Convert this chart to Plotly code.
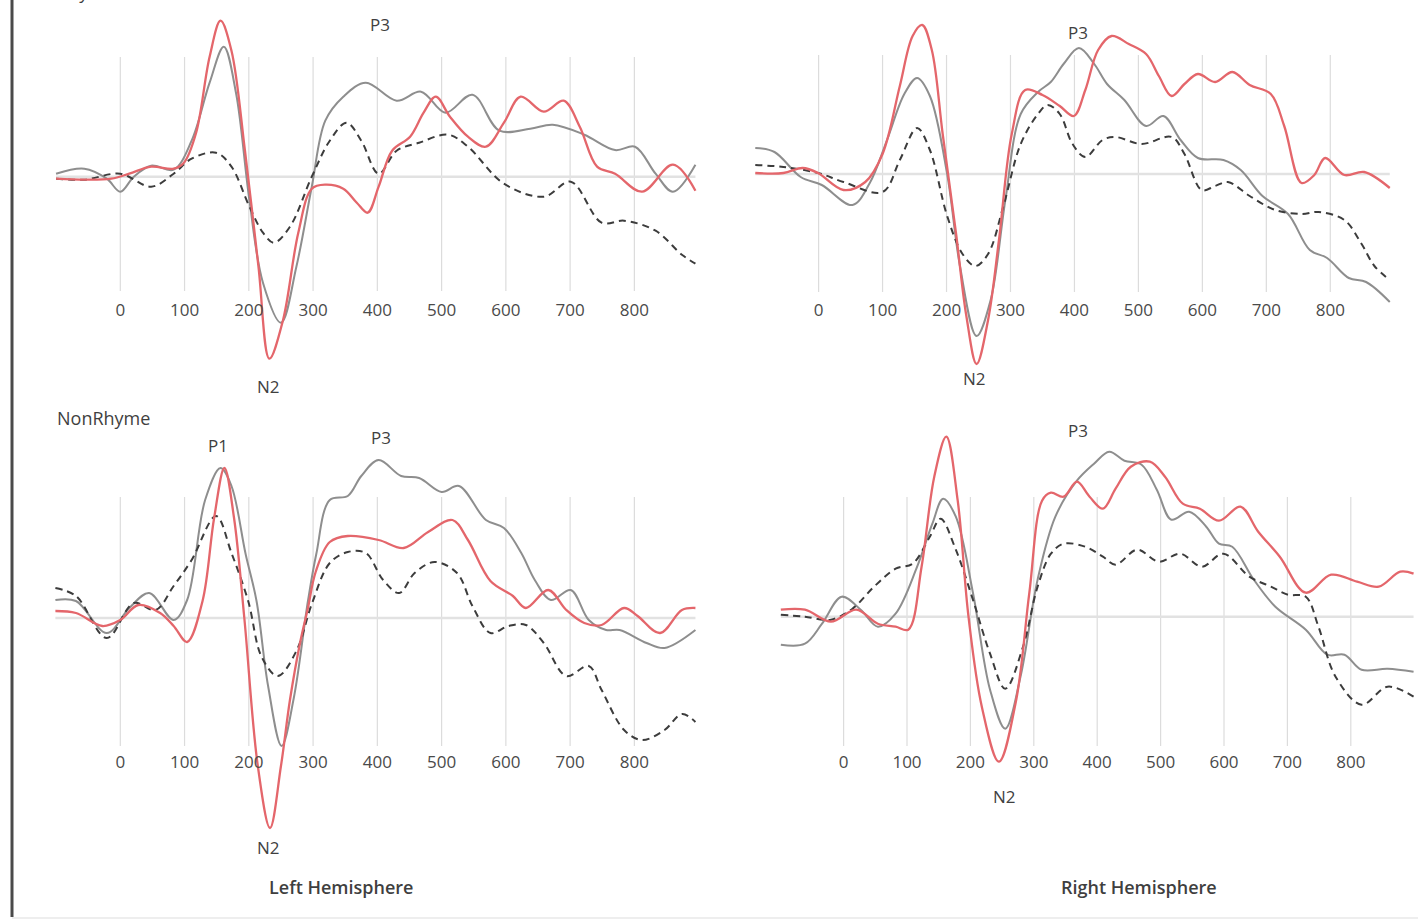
import plotly.graph_objects as go

W, H = 1418, 920
PX_PER_UV = 20.0

# ---- tick labels (ms) ----
tick_ms = [0, 100, 200, 300, 400, 500, 600, 700, 800]
tick_text = ["0", "100", "200", "300", "400", "500", "600", "700", "800"]

# ---- Rhyme, left hemisphere ----
rl_red_ms = [-100, -55, -14, 14, 48, 83, 99, 118, 139, 156, 173, 194, 215, 232, 253, 277, 298, 319,
             347, 368, 385, 402, 423, 451, 472, 491, 513, 541, 569, 597, 623, 659, 690, 715, 742,
             770, 812, 860, 895]
rl_red_uv = [-0.1, -0.15, -0.1, 0.15, 0.5, 0.4, 0.7, 2.2, 6.0, 7.8, 6.3, 1.3, -4.5, -9.1, -7.2, -2.8,
             -0.6, -0.4, -0.6, -1.3, -1.8, -0.5, 1.3, 2.0, 3.2, 4.0, 3.0, 2.0, 1.5, 2.7, 4.0, 3.25,
             3.8, 2.5, 0.5, 0.15, -0.75, 0.6, -0.7]
rl_grey_ms = [-100, -56, -21, 0, 21, 48, 83, 111, 139, 161, 180, 201, 222, 250, 274, 298, 319, 347,
              382, 430, 468, 506, 548, 590, 638, 673, 722, 770, 801, 833, 860, 895]
rl_grey_uv = [0.15, 0.4, -0.1, -0.75, 0.0, 0.55, 0.35, 1.8, 4.7, 6.5, 4.2, -1.2, -5.3, -7.3, -4.5,
              -0.5, 2.8, 4.0, 4.7, 3.8, 4.25, 3.2, 4.1, 2.3, 2.4, 2.6, 2.1, 1.33, 1.5, 0.15, -0.75, 0.6]
rl_dash_ms = [-100, -56, 0, 48, 83, 111, 149, 173, 201, 222, 239, 264, 298, 326, 352, 375, 402, 430,
              465, 510, 541, 597, 659, 701, 749, 784, 833, 874, 895]
rl_dash_uv = [-0.1, -0.15, 0.15, -0.5, 0.15, 0.9, 1.2, 0.5, -1.5, -2.8, -3.3, -2.5, 0.0, 1.8, 2.7, 1.8,
              0.15, 1.3, 1.7, 2.1, 1.5, -0.35, -1.0, -0.25, -2.3, -2.2, -2.7, -3.9, -4.35]

# ---- Rhyme, right hemisphere ----
rr_red_ms = [-99, -55, -25, -1, 39, 73, 100, 127, 147, 162, 177, 194, 215, 231, 247, 265, 282, 302,
             323, 350, 377, 399, 417, 437, 458, 485, 512, 532, 552, 572, 593, 620, 647, 674, 707, 728,
             755, 775, 792, 822, 853, 893]
rr_red_uv = [0.05, 0.05, 0.3, 0.05, -0.8, -0.4, 1.0, 4.4, 6.9, 7.45, 6.2, 2.0, -3.0, -7.1, -9.5, -7.3,
             -3.3, 2.0, 4.2, 3.95, 3.4, 2.9, 4.2, 6.2, 6.9, 6.5, 6.0, 4.9, 3.9, 4.5, 5.0, 4.6, 5.1,
             4.45, 4.0, 2.4, -0.45, -0.05, 0.8, -0.05, 0.1, -0.7]
rr_grey_ms = [-99, -69, -28, 5, 53, 80, 107, 134, 154, 174, 201, 221, 247, 269, 292, 316, 343, 363,
              383, 407, 431, 451, 478, 512, 539, 566, 593, 633, 660, 694, 734, 768, 795, 829, 856, 893]
rr_grey_uv = [1.3, 1.1, -0.15, -0.55, -1.55, -0.45, 1.7, 4.0, 4.8, 3.9, 0.0, -4.6, -8.1, -6.3, -1.3,
              3.0, 4.1, 4.6, 5.5, 6.3, 5.5, 4.5, 3.7, 2.4, 2.9, 1.7, 0.8, 0.7, 0.2, -1.1, -2.0, -3.8,
              -4.2, -5.2, -5.4, -6.4]
rr_dash_ms = [-99, -55, -1, 39, 100, 127, 154, 174, 201, 225, 245, 265, 289, 316, 343, 358, 377, 397,
              417, 444, 464, 505, 552, 572, 599, 620, 640, 674, 714, 755, 782, 822, 849, 869, 893]
rr_dash_uv = [0.45, 0.35, 0.05, -0.4, -0.9, 0.7, 2.3, 1.2, -2.1, -4.0, -4.6, -4.0, -1.6, 1.5, 3.0,
              3.45, 3.0, 1.5, 0.85, 1.7, 1.85, 1.5, 1.85, 1.0, -0.8, -0.6, -0.4, -1.1, -1.8, -2.0,
              -1.9, -2.3, -3.5, -4.6, -5.3]

# ---- NonRhyme, left hemisphere ----
nl_red_ms = [-101, -69, -28, 0, 28, 62, 83, 104, 128, 146, 162, 177, 193, 214, 233, 250, 264, 280,
             292, 304, 326, 354, 402, 441, 479, 517, 541, 576, 611, 631, 666, 694, 722, 749, 784,
             805, 840, 874, 895]
nl_red_uv = [0.35, 0.25, -0.4, -0.1, 0.65, 0.25, -0.4, -1.2, 0.85, 5.0, 7.5, 5.0, 0.0, -7.4, -10.5,
             -7.4, -4.1, -1.2, 0.5, 2.3, 3.8, 4.1, 3.9, 3.5, 4.3, 4.9, 3.9, 1.85, 1.1, 0.5, 1.4, 0.4,
             -0.25, -0.35, 0.5, 0.1, -0.75, 0.4, 0.5]
nl_grey_ms = [-101, -69, -21, 14, 45, 83, 104, 132, 156, 173, 195, 212, 230, 251, 270, 292, 305, 326,
              354, 375, 402, 437, 465, 500, 527, 569, 597, 624, 645, 670, 701, 729, 756, 777, 819,
              847, 895]
nl_grey_uv = [0.9, 0.85, -0.75, 0.5, 1.25, -0.1, 0.9, 5.9, 7.5, 6.6, 3.2, 0.85, -3.4, -6.4, -4.0,
              0.85, 3.2, 5.9, 6.1, 7.1, 7.9, 7.1, 7.0, 6.3, 6.6, 4.9, 4.5, 3.25, 1.9, 0.9, 1.4, -0.1,
              -0.6, -0.6, -1.25, -1.5, -0.6]
nl_dash_ms = [-101, -69, -21, 21, 55, 83, 111, 149, 173, 199, 220, 245, 274, 298, 326, 354, 382, 409,
              434, 458, 489, 524, 548, 576, 604, 631, 659, 694, 729, 749, 784, 812, 847, 874, 895]
nl_dash_uv = [1.5, 1.1, -1.0, 0.75, 0.4, 1.6, 2.9, 5.1, 3.25, 0.85, -1.95, -2.9, -1.65, 0.7, 2.75,
              3.3, 3.25, 1.9, 1.25, 2.25, 2.8, 2.25, 0.6, -0.75, -0.4, -0.35, -1.25, -2.9, -2.4,
              -3.6, -5.6, -6.1, -5.6, -4.8, -5.2]

# ---- NonRhyme, right hemisphere ----
nr_red_ms = [-99, -61, -20, 20, 54, 82, 102, 123, 143, 162, 180, 197, 218, 245, 272, 293, 313, 327,
             347, 368, 388, 409, 429, 453, 483, 507, 535, 562, 592, 626, 654, 688, 729, 769, 810,
             844, 878, 899]
nr_red_uv = [0.35, 0.35, -0.25, 0.35, -0.35, -0.5, -0.65, 2.5, 7.0, 9.0, 5.8, 0.0, -4.5, -7.25, -4.2,
             1.2, 5.8, 6.2, 6.0, 6.75, 6.0, 5.4, 6.4, 7.5, 7.75, 7.0, 5.65, 5.4, 4.8, 5.5, 4.25,
             3.0, 1.2, 2.1, 1.75, 1.5, 2.25, 2.15]
nr_grey_ms = [-99, -61, -34, -3, 27, 54, 82, 116, 140, 157, 177, 204, 231, 255, 279, 306, 334, 368,
              395, 419, 443, 470, 494, 517, 545, 572, 592, 613, 647, 681, 729, 763, 790, 817, 858, 899]
nr_grey_uv = [-1.4, -1.35, -0.35, 1.0, 0.35, -0.5, 0.15, 2.5, 4.65, 5.9, 5.0, 1.2, -3.65, -5.6,
              -3.0, 1.85, 5.0, 6.8, 7.65, 8.25, 7.8, 7.6, 6.35, 4.85, 5.25, 4.5, 3.65, 3.5, 1.85,
              0.5, -0.65, -1.9, -1.9, -2.65, -2.6, -2.75]
nr_dash_ms = [-99, -61, -20, 14, 48, 82, 109, 136, 153, 177, 204, 231, 255, 283, 306, 327, 347, 381,
              409, 429, 463, 497, 531, 565, 599, 640, 674, 701, 729, 749, 776, 817, 858, 899]
nr_dash_uv = [0.1, 0.0, -0.15, 0.4, 1.5, 2.4, 2.65, 4.0, 4.9, 3.35, 0.85, -1.85, -3.6, -1.5, 1.5,
              3.15, 3.65, 3.5, 3.0, 2.6, 3.35, 2.75, 3.15, 2.5, 3.15, 2.0, 1.5, 1.1, 1.0, -0.5,
              -3.0, -4.4, -3.5, -4.0]

# ---- peak labels: (text, ms, uV) ----
rl_peaks = [("P3", 404, 7.6), ("N2", 230, -10.5)]
rr_peaks = [("P3", 406, 7.1), ("N2", 244, -10.2)]
nl_peaks = [("P1", 152, 8.6), ("P3", 405, 9.0), ("N2", 230, -11.45)]
nr_peaks = [("P3", 370, 9.3), ("N2", 254, -9.0)]

RED = "#e4666b"
GREY = "#8e8e8e"
DARK = "#3c3c3c"
GRID = "#dcdcdc"
BASE = "#e2e2e2"
TEXT = "#3f3f3f"
FONT = "'Open Sans', Lato, sans-serif"

# panel geometry in page pixels: zero-ms x, px per ms, baseline y,
# column span, row span, grid span, tick-label row
panels = [
    dict(name="1", x0=120.3, k=0.6426, base=176.7, cols=(40, 712), rows=(0, 400), grid=(57, 291), lab=310,
         curves=[(rl_grey_ms, rl_grey_uv, "grey"), (rl_dash_ms, rl_dash_uv, "dash"), (rl_red_ms, rl_red_uv, "red")],
         peaks=rl_peaks),
    dict(name="2", x0=818.6, k=0.6396, base=174.0, cols=(740, 1418), rows=(0, 400), grid=(55, 292), lab=310,
         curves=[(rr_grey_ms, rr_grey_uv, "grey"), (rr_dash_ms, rr_dash_uv, "dash"), (rr_red_ms, rr_red_uv, "red")],
         peaks=rr_peaks),
    dict(name="3", x0=120.3, k=0.6426, base=618.0, cols=(40, 712), rows=(400, 880), grid=(497, 746), lab=762,
         curves=[(nl_grey_ms, nl_grey_uv, "grey"), (nl_dash_ms, nl_dash_uv, "dash"), (nl_red_ms, nl_red_uv, "red")],
         peaks=nl_peaks),
    dict(name="4", x0=843.6, k=0.634, base=616.7, cols=(740, 1418), rows=(400, 880), grid=(497, 746), lab=762,
         curves=[(nr_grey_ms, nr_grey_uv, "grey"), (nr_dash_ms, nr_dash_uv, "dash"), (nr_red_ms, nr_red_uv, "red")],
         peaks=nr_peaks),
]

styles = {
    "red": dict(color=RED, width=2.3),
    "grey": dict(color=GREY, width=2.0),
    "dash": dict(color=DARK, width=2.0, dash="7px,5px"),
}

fig = go.Figure()
layout = dict(width=W, height=H, margin=dict(l=0, r=0, t=0, b=0),
              paper_bgcolor="white", plot_bgcolor="rgba(0,0,0,0)", showlegend=False)
shapes, annotations = [], []

for p in panels:
    n = p["name"]
    xa, ya = ("xaxis" if n == "1" else f"xaxis{n}"), ("yaxis" if n == "1" else f"yaxis{n}")
    xr, yr = ("x" if n == "1" else f"x{n}"), ("y" if n == "1" else f"y{n}")
    c0, c1 = p["cols"]
    r0, r1 = p["rows"]
    to_ms = lambda px: (px - p["x0"]) / p["k"]
    to_uv = lambda py: (p["base"] - py) / PX_PER_UV
    layout[xa] = dict(domain=[c0 / W, c1 / W], range=[to_ms(c0), to_ms(c1)],
                      anchor="free", position=1 - (p["lab"] - 12) / H,
                      tickmode="array", tickvals=tick_ms, ticktext=tick_text,
                      showgrid=False, zeroline=False, showline=False, ticks="",
                      tickfont=dict(family=FONT, size=17, color="#4a4a4a"))
    layout[ya] = dict(domain=[1 - r1 / H, 1 - r0 / H], range=[to_uv(r1), to_uv(r0)],
                      anchor=xr, visible=False)

    # vertical guide lines at each labelled latency
    for t in tick_ms:
        shapes.append(dict(type="line", xref=xr, yref=yr, x0=t, x1=t,
                           y0=to_uv(p["grid"][1]), y1=to_uv(p["grid"][0]),
                           line=dict(color=GRID, width=1.2), layer="below"))
    # zero baseline across the recorded epoch
    all_ms = [m for c in p["curves"] for m in c[0]]
    shapes.append(dict(type="line", xref=xr, yref=yr, x0=min(all_ms), x1=max(all_ms), y0=0, y1=0,
                       line=dict(color=BASE, width=2.5), layer="below"))

    for ms, uv, kind in p["curves"]:
        fig.add_trace(go.Scatter(x=ms, y=uv, mode="lines", xaxis=xr, yaxis=yr,
                                 line=dict(shape="spline", smoothing=1.0, **styles[kind]),
                                 hoverinfo="skip"))

    for txt, ms, uv in p["peaks"]:
        annotations.append(dict(text=txt, x=ms, y=uv, xref=xr, yref=yr, showarrow=False,
                                font=dict(family=FONT, size=17, color=TEXT)))

# row / column captions
def note(text, px, py, xanchor="center", yanchor="middle", size=17, weight=None):
    annotations.append(dict(text=text, x=px / W, y=1 - py / H, xref="paper", yref="paper",
                            xanchor=xanchor, yanchor=yanchor, showarrow=False,
                            font=dict(family=FONT, size=size, color=TEXT, weight=weight)))

note("Rhyme", 55, 6, xanchor="left", yanchor="bottom", size=18)
note("NonRhyme", 55, 418, xanchor="left", size=18)
note("Left Hemisphere", 341, 887, size=18, weight=600)
note("Right Hemisphere", 1139, 887, size=18, weight=600)

# frame: dark rule on the left, faint rule along the bottom
shapes.append(dict(type="line", xref="paper", yref="paper", x0=12 / W, x1=12 / W, y0=1, y1=1 - 917 / H,
                   line=dict(color="#4a4a4a", width=3)))
shapes.append(dict(type="line", xref="paper", yref="paper", x0=12 / W, x1=1, y0=1 - 918 / H, y1=1 - 918 / H,
                   line=dict(color="#e8e8e8", width=1.5)))

layout["shapes"] = shapes
layout["annotations"] = annotations
fig.update_layout(**layout)
fig.write_html("out.html")
